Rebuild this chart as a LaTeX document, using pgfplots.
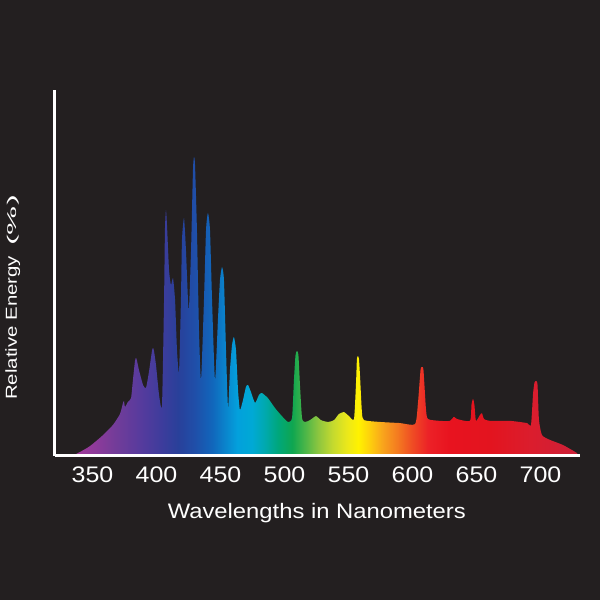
\documentclass[border=0pt]{standalone}
\usepackage{pgfplots}
\pgfplotsset{compat=1.18}
\usepackage{fontspec}
\setmainfont{Liberation Sans}
\usepackage{graphicx}

\definecolor{bg}{HTML}{231F20}
\definecolor{s01}{HTML}{A3399B}
\definecolor{s02}{HTML}{8E3B9A}
\definecolor{s03}{HTML}{733C99}
\definecolor{s04}{HTML}{573B9D}
\definecolor{s05}{HTML}{3F3C9C}
\definecolor{s06}{HTML}{29409A}
\definecolor{s07}{HTML}{1F4FA9}
\definecolor{s08}{HTML}{1166BB}
\definecolor{s09}{HTML}{0A84CC}
\definecolor{s10}{HTML}{03A0DC}
\definecolor{s11}{HTML}{00A9D5}
\definecolor{s12}{HTML}{00A9AD}
\definecolor{s13}{HTML}{00A77A}
\definecolor{s14}{HTML}{0FA650}
\definecolor{s15}{HTML}{4CB648}
\definecolor{s16}{HTML}{8DC63F}
\definecolor{s17}{HTML}{C3D92F}
\definecolor{s18}{HTML}{ECE81A}
\definecolor{s19}{HTML}{FFF200}
\definecolor{s20}{HTML}{FED40B}
\definecolor{s21}{HTML}{F9A51C}
\definecolor{s22}{HTML}{F47B20}
\definecolor{s23}{HTML}{EF4B24}
\definecolor{s24}{HTML}{EC2127}
\definecolor{s25}{HTML}{E8131F}
\definecolor{s26}{HTML}{E3141F}
\definecolor{s27}{HTML}{DB1D2D}
\definecolor{s28}{HTML}{CC2038}

\pgfdeclarehorizontalshading{spectrum}{100bp}{color(0bp)=(s01); color(25bp)=(s01); color(27.27bp)=(s02); color(29.25bp)=(s03); color(31.72bp)=(s04); color(33.70bp)=(s05); color(35.47bp)=(s06); color(37.15bp)=(s07); color(38.83bp)=(s08); color(40.12bp)=(s09); color(41.30bp)=(s10); color(42.79bp)=(s11); color(44.07bp)=(s12); color(45.36bp)=(s13); color(46.74bp)=(s14); color(48.02bp)=(s15); color(49.31bp)=(s16); color(50.69bp)=(s17); color(52.17bp)=(s18); color(53.26bp)=(s19); color(54.25bp)=(s20); color(55.63bp)=(s21); color(57.11bp)=(s22); color(58.60bp)=(s23); color(60.18bp)=(s24); color(62.35bp)=(s25); color(66.30bp)=(s26); color(70.26bp)=(s27); color(75bp)=(s28); color(100bp)=(s28)}

\pgfplotstableread{
x y
334.0 0
340.2 1.1
348.0 2.7
358.2 5.7
366.0 8.5
371.5 11.5
373.8 14.5
374.6 15.0
375.4 13.4
377.7 14.8
380.1 15.8
381.6 20.8
383.2 26.0
384.0 26.8
384.8 26.0
386.3 23.5
389.5 19.4
391.8 18.6
394.1 23.0
396.5 28.8
397.3 29.5
398.0 28.8
399.6 24.9
402.0 16.7
404.3 13.9
405.9 42.6
406.6 61.7
407.4 67.2
408.2 63.1
409.8 50.8
411.3 46.7
412.9 48.6
414.5 42.6
416.0 29.0
417.6 23.0
419.1 42.6
419.9 59.0
421.5 65.0
423.0 56.3
424.6 42.6
425.4 40.4
427.0 56.3
428.5 78.1
429.3 81.7
430.1 79.5
431.6 61.7
433.2 34.4
434.8 20.8
437.1 42.6
438.7 61.7
440.2 66.4
441.8 61.7
443.4 42.6
445.7 20.8
448.0 37.2
449.6 48.1
451.2 51.6
452.7 48.1
454.3 29.0
455.9 13.1
457.4 23.5
459.0 30.3
460.5 32.5
462.1 29.0
463.7 18.0
465.2 12.6
467.6 15.3
469.9 18.9
471.5 19.4
473.8 17.5
477.0 14.5
480.1 16.7
482.4 17.2
487.1 15.8
492.6 13.1
498.0 10.9
502.7 9.3
505.9 10.4
507.4 20.8
508.6 27.5
509.8 28.7
510.9 27.5
512.1 19.4
513.7 10.4
516.0 9.3
519.9 9.8
524.6 10.9
528.5 9.8
534.0 9.3
538.7 9.8
542.6 11.5
546.5 12.0
550.4 10.9
554.3 10.1
555.9 20.0
556.6 26.5
557.4 27.3
558.2 26.5
559.0 22.0
560.5 12.0
562.1 9.8
574.6 9.3
590.2 9.0
602.0 8.7
604.3 14.5
606.3 23.5
607.4 24.3
608.6 23.5
610.5 13.0
612.1 10.1
621.5 9.6
629.3 9.6
632.4 10.7
634.8 10.1
644.9 9.6
646.1 14.0
647.3 15.6
648.4 14.0
649.6 9.6
652.7 11.2
654.3 11.7
655.9 10.1
660.5 9.6
676.2 9.6
689.5 9.0
692.6 8.5
694.2 17.0
695.3 20.0
696.5 20.5
697.7 19.5
698.8 10.0
701.2 5.7
707.4 4.4
717.6 3.0
728.5 0.8
729.3 0
}\spectrumdata

\begin{document}
\begin{tikzpicture}
\fill[bg] (0pt,0pt) rectangle (300pt,300pt);
\begin{axis}[
  at={(27.5pt,72pt)}, anchor=south west,
  scale only axis, width=262.5pt, height=183pt,
  xmin=320.7, xmax=730.9, ymin=0, ymax=100,
  axis lines*=left,
  axis line style={white, line width=1.5pt},
  xtick={350,400,...,700}, ytick=\empty,
  major tick length=0pt,
  /pgf/number format/assume math mode=true,
  xticklabel={\scalebox{1}[0.9]{\pgfmathprintnumber{\tick}}},
  xticklabel style={text=white, font=\fontsize{12.5}{13}\selectfont, anchor=north, inner sep=0pt, yshift=-5.15pt},
  axis on top,
]
\addplot[draw=none, shade, shading=spectrum, smooth, tension=0.35] table[x=x, y=y] {\spectrumdata} \closedcycle;
\end{axis}
\node[rotate=90, anchor=base, text=white, inner sep=0pt] at (8.5pt,151.25pt)
  {\scalebox{1}[0.78]{\fontsize{10.2}{11}\selectfont Relative Energy\hspace{5pt}\scalebox{1.6}[0.8]{(\%)}}};
\node[anchor=base, text=white, inner sep=0pt] at (158.4pt,40.7pt)
  {\scalebox{1}[0.88]{\fontsize{11.9}{13}\selectfont Wavelengths in Nanometers}};
\end{tikzpicture}
\end{document}
